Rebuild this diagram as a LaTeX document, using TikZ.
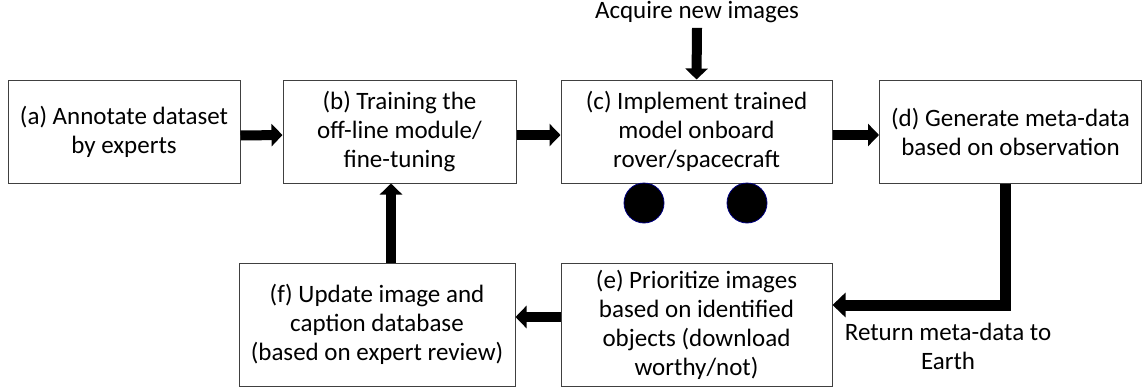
\documentclass[tikz,border=0pt]{standalone}
\usepackage{fontspec}
\setmainfont{Carlito}
\usetikzlibrary{arrows.meta,calc,positioning}

\tikzset{
  stepbox/.style={draw=black!75,line width=1pt,align=center,inner sep=2pt},
  flowarrow/.style={line width=10pt,-{Triangle[length=11pt,width=22pt]}},
  backarrow/.style={line width=11pt,-{Triangle[length=13pt,width=24pt]}},
  dotmark/.style={circle,fill=black,draw=blue!50!black,line width=0.8pt,minimum size=40pt,inner sep=0pt}
}

\begin{document}
\begin{tikzpicture}[x=1pt,y=-1pt,every node/.style={font=\fontsize{25}{29}\selectfont}]
\useasboundingbox (0,0) rectangle (1148,388);
% top row
\node [stepbox,minimum width=232pt,minimum height=103pt] (Annotate) at (124,132) {(a) Annotate dataset\\by experts};
\node [stepbox,minimum width=233pt,minimum height=103pt] (Training) at (399.5,131.5) {(b) Training the\\off-line module/\\fine-tuning};
\node [stepbox,minimum width=271pt,minimum height=103pt] (Implement) at (696.5,131.5) {(c) Implement trained\\model onboard\\rover/spacecraft};
\node [stepbox,minimum width=262pt,minimum height=103pt] (Generate) at (1010.5,131.5) {(d) Generate meta-data\\based on observation};
% bottom row
\node [stepbox,minimum width=271pt,minimum height=123pt] (Prioritize) at (696.5,324.5) {(e) Prioritize images\\based on identified\\objects (download\\worthy/not)};
\node [stepbox,minimum width=276pt,minimum height=123pt] (Update) at (377,324.5) {(f) Update image and\\caption database\\(based on expert review)};
% labels
\node [anchor=north,inner sep=1pt] (AcquireLabel) at (697,0) {Acquire new images};
\node [align=center] (ReturnLabel) at (948,346) {Return meta-data to\\Earth};
\node [dotmark] (Dot1) at (644,203) {};
\node [dotmark] (Dot2) at (747,203) {};
% connectors
\draw [flowarrow] ([yshift=-3.5pt]Annotate.east) -- ([yshift=-3.5pt]Training.west);
\draw [flowarrow] ([yshift=-3.5pt]Training.east) -- ([yshift=-3.5pt]Implement.west);
\draw [flowarrow] ([yshift=-3.5pt]Implement.east) -- ([yshift=-3.5pt]Generate.west);
\draw [flowarrow] ([yshift=-4pt]AcquireLabel.south) -- (Implement.north);
\draw [backarrow] ([xshift=-5pt]Generate.south) |- ([yshift=19.5pt]Prioritize.east);
\draw [flowarrow] ([yshift=7.5pt]Prioritize.west) -- ([yshift=7.5pt]Update.east);
\draw [flowarrow] ([xshift=14pt]Update.north) -- ([xshift=14pt]Update.north |- Training.south);
\end{tikzpicture}
\end{document}
